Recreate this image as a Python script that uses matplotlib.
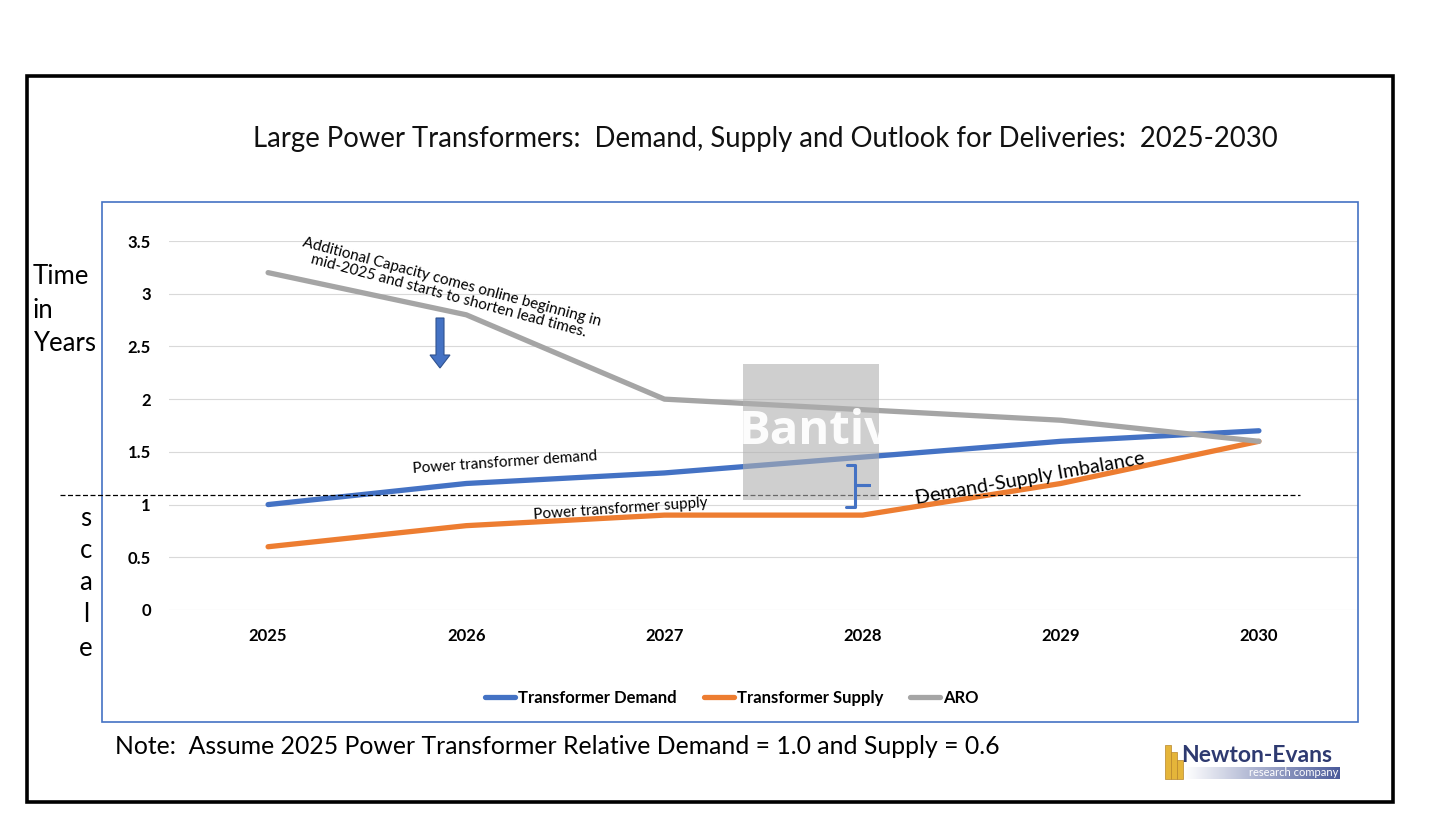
import matplotlib
matplotlib.use("Agg")
import matplotlib.pyplot as plt
import numpy as np
from matplotlib.patches import Rectangle, Polygon
from matplotlib.lines import Line2D
from matplotlib.colors import LinearSegmentedColormap

years = ["2025", "2026", "2027", "2028", "2029", "2030"]
demand = [1.0, 1.2, 1.3, 1.45, 1.6, 1.7]
supply = [0.6, 0.8, 0.9, 0.9, 1.2, 1.6]
aro = [3.2, 2.8, 2.0, 1.9, 1.8, 1.6]
yticks = [0, 0.5, 1, 1.5, 2, 2.5, 3, 3.5]
ytick_labels = ["0", "0.5", "1", "1.5", "2", "2.5", "3", "3.5"]

W, H = 1456, 819
FONT = ["Lato", "DejaVu Sans"]
plt.rcParams["font.family"] = FONT

fig = plt.figure(figsize=(W / 100, H / 100), dpi=100)
fig.patch.set_facecolor("white")

def fx(x):
    return x / W

def fy(y):
    return 1 - y / H

# outer black frame
fig.patches.append(Rectangle((fx(27), fy(802)), fx(1393) - fx(27), fy(76) - fy(802),
                             transform=fig.transFigure, fill=False, ec="black", lw=2.6))
# blue chart frame
fig.patches.append(Rectangle((fx(102), fy(722)), fx(1358) - fx(102), fy(202) - fy(722),
                             transform=fig.transFigure, fill=False, ec="#4472C4", lw=1.2))

ax = fig.add_axes([fx(169), fy(610), fx(1358) - fx(169), fy(241) - fy(610)])
x = np.arange(len(years))
c_dem, c_sup, c_aro = "#4472C4", "#ED7D31", "#A5A5A5"
ax.plot(x, demand, color=c_dem, lw=3.8, solid_capstyle="round", label="Transformer Demand", zorder=3)
ax.plot(x, supply, color=c_sup, lw=3.8, solid_capstyle="round", label="Transformer Supply", zorder=3)
ax.plot(x, aro, color=c_aro, lw=3.8, solid_capstyle="round", label="ARO", zorder=3)
ax.set_xlim(-0.5, 5.5)
ax.set_ylim(0, 3.5)
ax.set_yticks(yticks)
ax.set_yticklabels(ytick_labels)
ax.set_xticks(x)
ax.set_xticklabels(years)
for s in ax.spines.values():
    s.set_visible(False)
ax.grid(axis="y", color="#D9D9D9", lw=0.8)
ax.set_axisbelow(True)
ax.tick_params(length=0, labelsize=12)
ax.tick_params(axis="y", pad=13)
ax.tick_params(axis="x", pad=13)
for lbl in ax.get_xticklabels() + ax.get_yticklabels():
    lbl.set_fontweight("bold")
ax.patch.set_alpha(0)

leg = ax.legend(loc="center", bbox_to_anchor=((732 - 169) / (1358 - 169), (610 - 698) / (610 - 241)),
                ncol=3, frameon=False, handlelength=1.8, columnspacing=1.6, handletextpad=0.2,
                prop={"weight": "bold", "size": 12})

# title
fig.text(fx(765), fy(139), "Large Power Transformers:  Demand, Supply and Outlook for Deliveries:  2025-2030",
         ha="center", va="center", fontsize=19.8, color="#111111")

# y-axis label
for txt, yy in [("Time", 277), ("in", 310), ("Years", 343)]:
    fig.text(fx(33), fy(yy), txt, ha="left", va="center", fontsize=18.5)
for ch, yy in zip("scale", [519, 551, 583, 615, 648]):
    fig.text(fx(86), fy(yy), ch, ha="center", va="center", fontsize=18.5)

# dashed reference line
fig.add_artist(Line2D([fx(60), fx(1300)], [fy(495), fy(495)], transform=fig.transFigure,
                      color="black", lw=0.9, ls=(0, (4, 2))))

# annotations
fig.text(fx(450), fy(289), "Additional Capacity comes online beginning in\nmid-2025 and starts to shorten lead times.",
         ha="center", va="center", rotation=-15, fontsize=11, linespacing=1.0)
fig.text(fx(505), fy(463), "Power transformer demand", ha="center", va="center", rotation=4, fontsize=11)
fig.text(fx(621), fy(509), "Power transformer supply", ha="center", va="center", rotation=4, fontsize=11)
fig.text(fx(1030), fy(478), "Demand-Supply Imbalance", ha="center", va="center", rotation=10, fontsize=14.2)

# blue down arrow
pts = [(436, 318), (444, 318), (444, 355), (450, 355), (440, 368), (430, 355), (436, 355)]
fig.patches.append(Polygon([(fx(a), fy(b)) for a, b in pts], closed=True, transform=fig.transFigure,
                           fc="#4472C4", ec="#2F528F", lw=0.8, zorder=5))

# brace (squared, drawn as a path)
bx = [847, 855, 855, 869, 855, 855, 846]
by = [465, 465, 485, 485, 485, 507, 507]
fig.add_artist(Line2D([fx(v) for v in bx], [fy(v) for v in by], transform=fig.transFigure,
                      color="#4472C4", lw=2.2, solid_joinstyle="round", solid_capstyle="round", zorder=6))

# watermark box
wm = Rectangle((fx(743), fy(500)), fx(879) - fx(743), fy(364) - fy(500),
               transform=fig.transFigure, fc="#B0B0B0", ec="none", alpha=0.6, zorder=4)
fig.patches.append(wm)
t = fig.text(fx(815), fy(432), "Bantiv", ha="center", va="center", fontsize=34, color="white",
             fontweight="bold", zorder=5, alpha=0.95, family=["Open Sans", "DejaVu Sans"])
t.set_clip_path(wm)

# note
fig.text(fx(115), fy(747), "Note:  Assume 2025 Power Transformer Relative Demand = 1.0 and Supply = 0.6",
         ha="left", va="center", fontsize=17.8)

# logo
for bxx, by0, bw in [(1165, 745, 6), (1171, 752, 6), (1177, 760, 6)]:
    fig.patches.append(Rectangle((fx(bxx), fy(779)), fx(bw), fy(by0) - fy(779), transform=fig.transFigure,
                                 fc="#E5B53A", ec="#B8862A", lw=0.5))
gax = fig.add_axes([fx(1185), fy(779), fx(1340) - fx(1185), fy(767) - fy(779)])
grad = np.linspace(0, 1, 256).reshape(1, -1)
cmap = LinearSegmentedColormap.from_list("g", ["#FFFFFF", "#4A5A9A"])
gax.imshow(grad, aspect="auto", cmap=cmap)
gax.axis("off")
fig.text(fx(1338), fy(773), "research company", ha="right", va="center", fontsize=8, color="white")
fig.text(fx(1181), fy(756), "Newton-Evans", ha="left", va="center", fontsize=16.5, color="#2E3A70",
         fontweight="bold")

fig.savefig("out.png", dpi=100)
